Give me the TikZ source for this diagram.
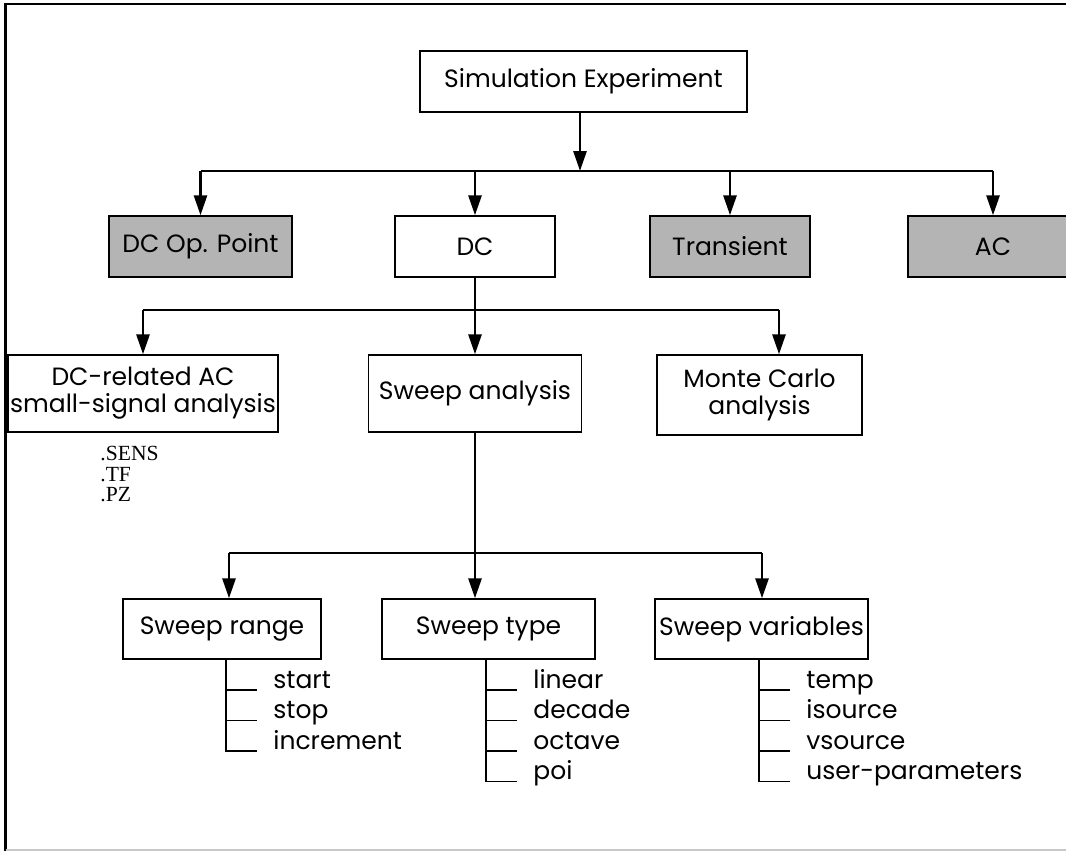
\documentclass[tikz,border=0pt]{standalone}
\usepackage{fontspec}
\setmainfont{Poppins}
\newfontfamily\cmdfont{Liberation Serif}
\usetikzlibrary{arrows.meta}
\definecolor{boxgray}{HTML}{B4B4B4}
\definecolor{edgegray}{HTML}{C8C8C8}

\begin{document}
\begin{tikzpicture}[
    x=0.5pt, y=-0.5pt,
    box/.style={rectangle, draw, line width=0.7pt, inner sep=1pt,
                align=center,
                font=\fontsize{12.5}{13.5}\selectfont},
    greybox/.style={box, fill=boxgray},
    link/.style={line width=1.4pt, -{Triangle[length=10pt,width=6.5pt]}},
    bus/.style={line width=1.4pt},
    leaf/.style={anchor=base west, inner sep=0pt,
                 font=\fontsize{12.5}{14}\selectfont},
    tick/.style={line width=0.7pt}
]
\clip (0,0) rectangle (1066,851);

% frame
\draw[line width=1.4pt] (1066,4) -- (5.5,4) -- (5.5,851);
\draw[edgegray, line width=0.6pt] (5.5,850) -- (1066,850);

% top levels
\node[box, minimum width=163.5pt, minimum height=30.5pt] (sim) at (583.5,81.5) {Simulation Experiment};
\node[greybox, minimum width=91.5pt, minimum height=30.5pt] (dcop) at (200.5,246.5) {DC Op. Point};
\node[box, minimum width=80pt, minimum height=30.5pt] (dc) at (475,246.5) {DC};
\node[greybox, minimum width=80pt, minimum height=30.5pt] (tran) at (730,246.5) {Transient};
\node[greybox, minimum width=85pt, minimum height=30.5pt] (ac) at (993,246.5) {AC};

\node[box, minimum width=129pt, minimum height=38.5pt] (dcac) at (143,393.5) {DC-related AC\\small-signal analysis};
\node[box, minimum width=106.5pt, minimum height=38.5pt] (sweep) at (475,393.5) {Sweep analysis};
\node[box, minimum width=102.5pt, minimum height=40pt] (mc) at (759.5,395) {Monte Carlo\\analysis};

\node[anchor=north west, inner sep=0pt, align=left,
      font=\cmdfont\fontsize{10.8}{10.25}\selectfont] (cmds) at (100,446) {.SENS\\.TF\\.PZ};

\node[box, minimum width=99pt, minimum height=30pt] (range) at (222,629) {Sweep range};
\node[box, minimum width=106.5pt, minimum height=30pt] (type) at (488.5,629) {Sweep type};
\node[box, minimum width=106.5pt, minimum height=30pt] (vars) at (761.5,629) {Sweep variables};

% first fan-out
\coordinate (b1) at (580,171);
\draw[link] (sim.south -| b1) -- (b1);
\draw[bus] (b1 -| dcop.north) -- (b1 -| ac.north);
\foreach \n in {dcop,dc,tran,ac}
    \draw[link] (b1 -| \n.north) -- (\n.north);

% second fan-out
\coordinate (b2) at (475,310);
\coordinate (mcx) at (779,310);
\draw[bus] (dc.south) -- (b2);
\draw[bus] (b2 -| dcac.north) -- (mcx);
\draw[link] (b2 -| dcac.north) -- (dcac.north);
\draw[link] (b2) -- (sweep.north);
\draw[link] (mcx) -- (mcx |- mc.north);

% third fan-out
\coordinate (b3) at (475,553);
\coordinate (rgx) at (229,553);
\coordinate (vrx) at (762,553);
\draw[bus] (sweep.south) -- (b3);
\draw[bus] (rgx) -- (vrx);
\draw[link] (rgx) -- (rgx |- range.north);
\draw[link] (b3) -- (b3 |- type.north);
\draw[link] (vrx) -- (vrx |- vars.north);

% option lists
\foreach \lst/\lx/\items in {range/226/{start,stop,increment},
                             type/486/{linear,decade,octave,poi},
                             vars/759/{temp,isource,vsource,user-parameters}} {
    \coordinate (\lst-x) at (\lx,0);
    \foreach \it [count=\i] in \items {
        \coordinate (\lst-t\i) at (\lx+31, 659.5+30.5*\i);
        \node[leaf] (\lst-\i) at (\lx+47, 657.5+30.5*\i) {\it};
        \draw[tick] (\lst.south -| \lst-x) |- (\lst-t\i);
    }
}
\end{tikzpicture}
\end{document}
